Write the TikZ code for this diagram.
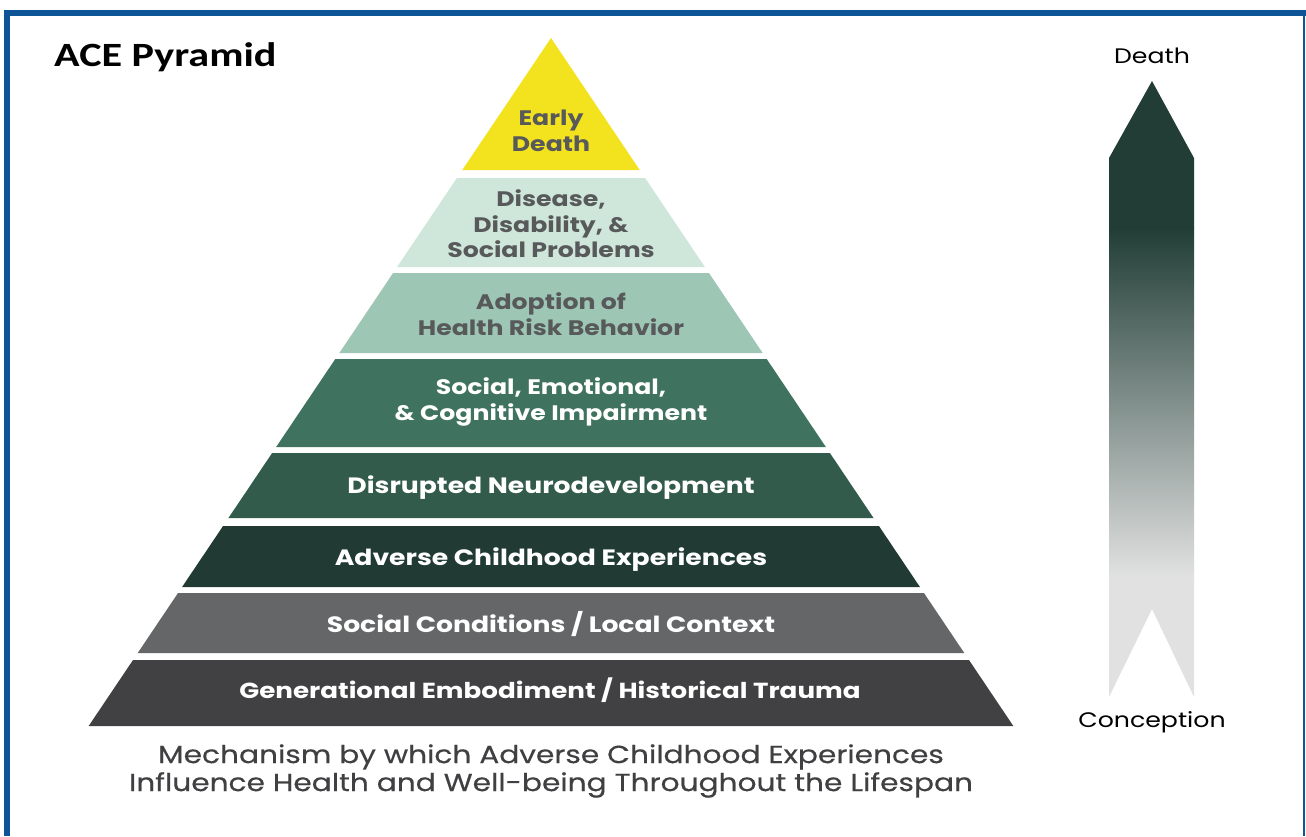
\documentclass[tikz,border=0pt]{standalone}
\usepackage{fontspec}
\setmainfont{Poppins}[FakeStretch=1.2]
\newfontfamily\titlefont{Carlito}[FakeStretch=1.24]
\newfontfamily\capfont{Poppins}[FakeStretch=1.2, FakeBold=0.4]
\definecolor{borderblue}{HTML}{0D5597}
\definecolor{lay1}{HTML}{F2E31E}
\definecolor{lay2}{HTML}{CFE7DA}
\definecolor{lay3}{HTML}{9DC6B5}
\definecolor{lay4}{HTML}{3F725F}
\definecolor{lay5}{HTML}{335B4C}
\definecolor{lay6}{HTML}{213B34}
\definecolor{lay7}{HTML}{656668}
\definecolor{lay8}{HTML}{414143}
\definecolor{txtgray}{HTML}{58595B}
\definecolor{capgray}{HTML}{404042}
\definecolor{arrowdark}{HTML}{213D36}
\definecolor{arrowlight}{HTML}{E1E1E1}
\tikzset{
  layertext/.style={align=center, inner sep=0pt, font=\fontsize{21}{25.5}\selectfont\bfseries},
  ondark/.style={layertext, text=white},
  onlight/.style={layertext, text=txtgray},
  bigtext/.style={font=\fontsize{22.2}{26}\selectfont\bfseries, anchor=base},
  endlabel/.style={inner sep=0pt, anchor=base, text=black, font=\fontsize{21}{25}\selectfont},
}
\begin{document}
\begin{tikzpicture}[x=1pt,y=-1pt]
\useasboundingbox (0,0) rectangle (1306,836);
\fill[white] (0,0) rectangle (1306,836);
% frame
\fill[borderblue] (4,10) rectangle (1306,16);
\fill[borderblue] (4,10) rectangle (10,836);
\draw[borderblue, line width=1.5pt] (1304,10) -- (1304,836);
% title
\node[anchor=base west, inner sep=0pt, font=\titlefont\fontsize{34}{40}\selectfont\bfseries] (title) at (54,66) {ACE Pyramid};
% pyramid layers
\foreach \t/\b/\c in {38/170/lay1, 178/267/lay2, 273/353/lay3, 359/447/lay4, 453/518/lay5, 526/587/lay6, 593/653/lay7, 660/726/lay8}{
  \pgfmathsetmacro\ht{0.672*(\t-38)}
  \pgfmathsetmacro\hb{0.672*(\b-38)}
  \fill[\c] ({551-\ht},\t) -- ({551+\ht},\t) -- ({551+\hb},\b) -- ({551-\hb},\b) -- cycle;
}
\node[onlight] (early) at (551,131) {Early\\Death};
\node[onlight] (disease) at (551,224) {Disease,\\Disability, \&\\Social Problems};
\node[onlight] (adopt) at (551,314) {Adoption of\\Health Risk Behavior};
\node[ondark] (social) at (551,402) {Social, Emotional,\\\& Cognitive Impairment};
\node[ondark, bigtext] (neuro) at (551,493) {Disrupted Neurodevelopment};
\node[ondark, bigtext] (ace) at (551,565) {Adverse Childhood Experiences};
\node[ondark, bigtext] (cond) at (551,632) {Social Conditions / Local Context};
\node[ondark, bigtext, font=\fontsize{21.8}{26}\selectfont\bfseries] (gen) at (550,698) {Generational Embodiment / Historical Trauma};
% caption
\node[align=center, inner sep=0pt, text=capgray, font=\capfont\fontsize{24.7}{28}\selectfont] (caption) at (551,771) {Mechanism by which Adverse Childhood Experiences\\Influence Health and Well-being Throughout the Lifespan};
% lifespan arrow
\begin{scope}
  \clip (1109,158) -- (1152,81) -- (1194,158) -- (1194,697) -- (1152,609) -- (1109,697) -- cycle;
  \fill[arrowdark] (1100,70) rectangle (1200,228);
  \shade[top color=arrowdark, bottom color=arrowlight] (1100,227) rectangle (1200,577);
  \fill[arrowlight] (1100,576) rectangle (1200,710);
\end{scope}
\node[endlabel] (death) at (1152,63) {Death};
\node[endlabel] (conception) at (1152,727) {Conception};
\end{tikzpicture}
\end{document}
